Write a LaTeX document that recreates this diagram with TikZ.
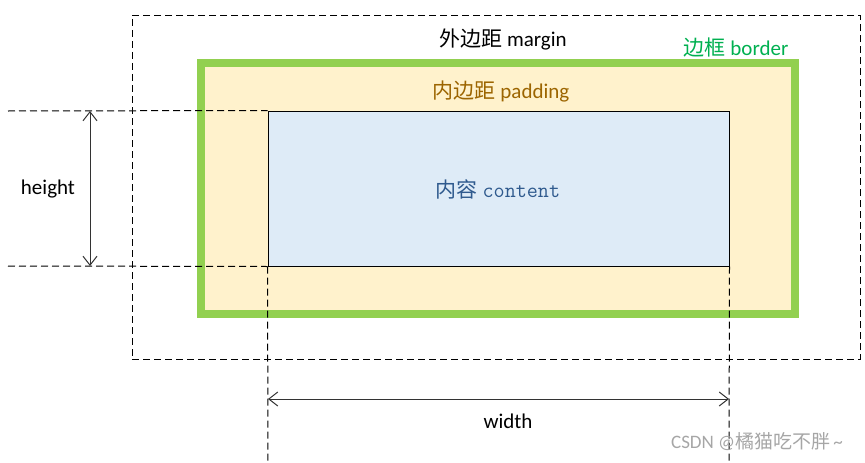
\documentclass[tikz,border=0pt]{standalone}
\usepackage{fontspec}
\setmainfont{Carlito}
\newfontfamily\cjk{Noto Sans CJK SC}
\usetikzlibrary{arrows.meta}
\definecolor{bordergreen}{HTML}{92D050}
\definecolor{padfill}{HTML}{FFF2CC}
\definecolor{contfill}{HTML}{DEEBF7}
\definecolor{padtext}{HTML}{9C6500}
\definecolor{bordtext}{HTML}{00B050}
\definecolor{conttext}{HTML}{2F5A8E}
\tikzset{
  dimline/.style={draw=black, line width=1pt, dash pattern=on 7pt off 4pt},
  marginbox/.style={draw=black, line width=1pt, dash pattern=on 7pt off 4pt, minimum width=728pt, minimum height=344pt, inner sep=0pt},
  borderbox/.style={draw=bordergreen, fill=padfill, line width=8pt, minimum width=594pt, minimum height=251pt, inner sep=0pt},
  contentbox/.style={draw=black, fill=contfill, line width=1pt, minimum width=461pt, minimum height=155pt, inner sep=0pt},
  dimarrow/.style={draw=black!80, line width=1pt, {Straight Barb[length=9pt,width=14pt]}-{Straight Barb[length=9pt,width=14pt]}},
  lbl/.style={inner sep=0pt, font=\fontsize{21}{24}\selectfont}
}
\begin{document}
\begin{tikzpicture}[x=1pt,y=-1pt]
\useasboundingbox (0,0) rectangle (865,463);
\node[marginbox] (margin) at (496,187) {};
\node[borderbox] (border) at (498,188.5) {};
\node[contentbox] (content) at (498.5,188.5) {};
% extension lines
\coordinate (hl1) at (8,111);
\coordinate (hl2) at (8,266);
\coordinate (vl1) at (268,463);
\coordinate (vl2) at (729,463);
\draw[dimline] (hl1) -- (content.north west);
\draw[dimline] (hl2) -- (content.south west);
\draw[dimline] (content.south west) -- (vl1);
\draw[dimline] (content.south east) -- (vl2);
% dimension arrows
\coordinate (ha) at (90,111);
\coordinate (hb) at (90,266);
\coordinate (wa) at (268,399);
\coordinate (wb) at (729,399);
\draw[dimarrow] (ha) -- (hb);
\draw[dimarrow] (wa) -- (wb);
% labels
\node[lbl] (hlabel) at (48,189) {height};
\node[lbl] (wlabel) at (508,421) {width};
\node[lbl] (mlabel) at (503,39) {{\cjk 外边距} margin};
\node[lbl, text=bordtext] (blabel) at (736,48) {{\cjk 边框} border};
\node[lbl, text=padtext] (plabel) at (501,91) {{\cjk 内边距} padding};
\node[lbl, text=conttext] (clabel) at (498,189) {{\cjk 内容} {\ttfamily\fontsize{21.5}{24}\selectfont content}};
\node[inner sep=0pt, text=black!35, font=\fontsize{19}{22}\selectfont] (wm) at (757,442) {CSDN @{\cjk 橘猫吃不胖}\,\textasciitilde};
\end{tikzpicture}
\end{document}
